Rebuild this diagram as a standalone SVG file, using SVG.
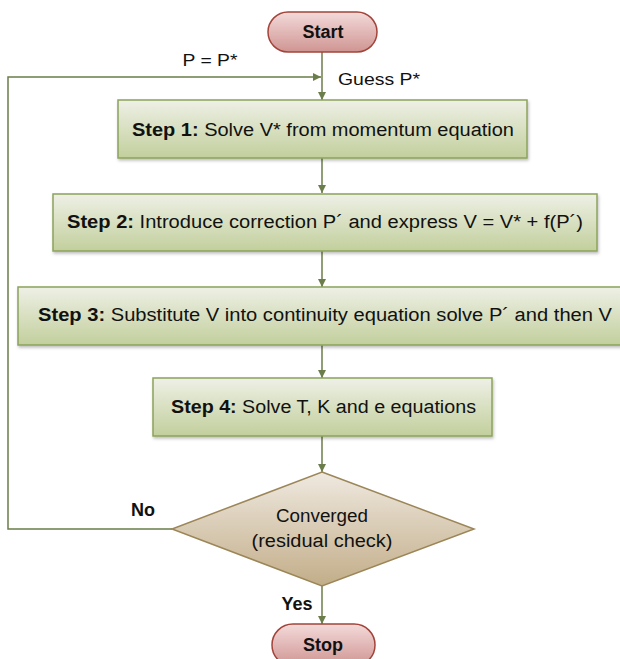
<svg xmlns="http://www.w3.org/2000/svg" width="620" height="659" viewBox="0 0 620 659">
  <defs>
    <linearGradient id="gPill" x1="0" y1="0" x2="0" y2="1">
      <stop offset="0" stop-color="#f3dada"/>
      <stop offset="1" stop-color="#cf9592"/>
    </linearGradient>
    <linearGradient id="gBox" x1="0" y1="0" x2="0" y2="1">
      <stop offset="0" stop-color="#eef0e6"/>
      <stop offset="1" stop-color="#c2cf9c"/>
    </linearGradient>
    <linearGradient id="gDia" x1="0" y1="0" x2="0" y2="1">
      <stop offset="0" stop-color="#efe9e0"/>
      <stop offset="1" stop-color="#c2ad88"/>
    </linearGradient>
    <filter id="shadow" x="-5%" y="-10%" width="110%" height="130%">
      <feDropShadow dx="1" dy="2" stdDeviation="1.5" flood-color="#000" flood-opacity="0.25"/>
    </filter>
    <marker id="arrow" viewBox="0 0 10 10" refX="10" refY="5" markerWidth="8" markerHeight="8" markerUnits="userSpaceOnUse" orient="auto">
      <path d="M0,0 L10,5 L0,10 z" fill="#6b7d4a"/>
    </marker>
  </defs>
  <style>
    .pill { fill: url(#gPill); stroke: #a3443a; stroke-width: 1.5; }
    .box { fill: url(#gBox); stroke: #8ca35c; stroke-width: 1.5; filter: url(#shadow); }
    .dia { fill: url(#gDia); stroke: #9c8658; stroke-width: 1.5; }
    .conn { fill: none; stroke: #6b7d4a; stroke-width: 1.5; }
    text { font-family: "Liberation Sans", Arial, sans-serif; fill: #111; }
    .t { font-size: 18px; }
    .b { font-weight: bold; }
    .lbl { font-size: 16px; }
  </style>

  <!-- connectors -->
  <g id="connectors">
    <path class="conn" d="M322,52 V100" marker-end="url(#arrow)"/>
    <path class="conn" d="M322,158 V193" marker-end="url(#arrow)"/>
    <path class="conn" d="M322,251 V287" marker-end="url(#arrow)"/>
    <path class="conn" d="M322,345 V378" marker-end="url(#arrow)"/>
    <path class="conn" d="M322,436 V472" marker-end="url(#arrow)"/>
    <path class="conn" d="M322,586 V624" marker-end="url(#arrow)"/>
    <path class="conn" d="M172,529 H8 V77 H321" marker-end="url(#arrow)"/>
    <text class="lbl" x="210" y="66" text-anchor="middle" textLength="55" lengthAdjust="spacingAndGlyphs">P = P*</text>
    <text class="lbl" x="338" y="85" textLength="82" lengthAdjust="spacingAndGlyphs">Guess P*</text>
    <text class="t b" x="143" y="516" text-anchor="middle" font-size="17">No</text>
    <text class="t b" x="297" y="610" text-anchor="middle" font-size="17">Yes</text>
  </g>

  <g id="start">
    <rect class="pill" x="268" y="12" width="109" height="40" rx="20" ry="20"/>
    <text class="t b" x="323" y="38" text-anchor="middle">Start</text>
  </g>

  <g id="step1">
    <rect class="box" x="118" y="100" width="409" height="58"/>
    <text class="t" x="132" y="136" textLength="382" lengthAdjust="spacingAndGlyphs"><tspan class="b">Step 1:</tspan> Solve V* from momentum equation</text>
  </g>

  <g id="step2">
    <rect class="box" x="53" y="194" width="544" height="57"/>
    <text class="t" x="67" y="228" textLength="516" lengthAdjust="spacingAndGlyphs"><tspan class="b">Step 2:</tspan> Introduce correction P´ and express V = V* + f(P´)</text>
  </g>

  <g id="step3">
    <rect class="box" x="18" y="287" width="610" height="58"/>
    <text class="t" x="38" y="321" textLength="574" lengthAdjust="spacingAndGlyphs"><tspan class="b">Step 3:</tspan> Substitute V into continuity equation solve P´ and then V</text>
  </g>

  <g id="step4">
    <rect class="box" x="153" y="378" width="339" height="58"/>
    <text class="t" x="171" y="413" textLength="305" lengthAdjust="spacingAndGlyphs"><tspan class="b">Step 4:</tspan> Solve T, K and e equations</text>
  </g>

  <g id="converged">
    <polygon class="dia" points="322,472 474,529 322,586 172,529"/>
    <text class="t" x="322" y="522" text-anchor="middle" textLength="92" lengthAdjust="spacingAndGlyphs">Converged</text>
    <text class="t" x="322" y="547" text-anchor="middle" textLength="141" lengthAdjust="spacingAndGlyphs">(residual check)</text>
  </g>

  <g id="stop">
    <rect class="pill" x="272" y="624" width="103" height="42" rx="21" ry="21"/>
    <text class="t b" x="323" y="651" text-anchor="middle">Stop</text>
  </g>
</svg>
